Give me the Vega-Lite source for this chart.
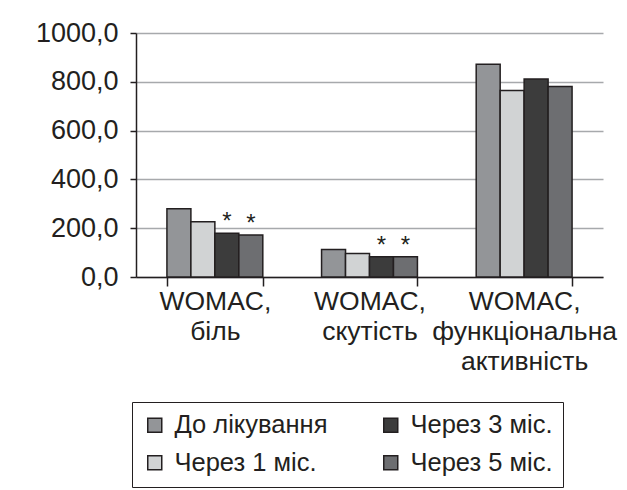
{
  "$schema": "https://vega.github.io/schema/vega-lite/v6.json",
  "autosize": {"type": "none"},
  "width": 467,
  "height": 244,
  "padding": {"left": 136, "top": 33, "right": 24, "bottom": 213},
  "background": "#ffffff",
  "config": {
    "view": {"stroke": null},
    "font": "Liberation Sans",
    "axis": {"labelFont": "Liberation Sans", "labelColor": "#231f20", "domainColor": "#231f20", "tickColor": "#231f20", "domainWidth": 1.5, "tickWidth": 1.5},
    "legend": {"labelFont": "Liberation Sans"}
  },
  "data": {
    "values": [
      {"cat": "WOMAC, біль", "period": "До лікування", "value": 280, "sig": ""},
      {"cat": "WOMAC, біль", "period": "Через 1 міс.", "value": 226, "sig": ""},
      {"cat": "WOMAC, біль", "period": "Через 3 міс.", "value": 179, "sig": "*"},
      {"cat": "WOMAC, біль", "period": "Через 5 міс.", "value": 172, "sig": "*"},
      {"cat": "WOMAC, скутість", "period": "До лікування", "value": 113, "sig": ""},
      {"cat": "WOMAC, скутість", "period": "Через 1 міс.", "value": 96, "sig": ""},
      {"cat": "WOMAC, скутість", "period": "Через 3 міс.", "value": 83, "sig": "*"},
      {"cat": "WOMAC, скутість", "period": "Через 5 міс.", "value": 83, "sig": "*"},
      {"cat": "WOMAC, функціональна активність", "period": "До лікування", "value": 872, "sig": ""},
      {"cat": "WOMAC, функціональна активність", "period": "Через 1 міс.", "value": 764, "sig": ""},
      {"cat": "WOMAC, функціональна активність", "period": "Через 3 міс.", "value": 811, "sig": ""},
      {"cat": "WOMAC, функціональна активність", "period": "Через 5 міс.", "value": 781, "sig": ""}
    ]
  },
  "encoding": {
    "x": {
      "field": "cat", "type": "nominal", "sort": null,
      "scale": {"paddingInner": 0.38},
      "axis": {
        "title": null, "labelAngle": 0, "labelFontSize": 26.5, "labelLineHeight": 30,
        "labelBaseline": "top", "labelPadding": 2, "tickSize": 9, "tickBand": "extent",
        "labelLimit": 400, "labelOverlap": false,
        "labelExpr": "split(replace(replace(datum.label, ', ', ',|'), ' ', '|'), '|')"
      }
    },
    "xOffset": {
      "field": "period", "type": "nominal",
      "sort": ["До лікування", "Через 1 міс.", "Через 3 міс.", "Через 5 міс."],
      "scale": {"paddingInner": 0, "paddingOuter": 0}
    },
    "y": {
      "field": "value", "type": "quantitative",
      "scale": {"domain": [0, 1000]},
      "axis": {
        "title": null, "values": [0, 200, 400, 600, 800, 1000], "grid": true,
        "gridColor": "#a7a9ac", "gridWidth": 1.5, "tickSize": 6, "labelFontSize": 27,
        "labelPadding": 12,
        "labelExpr": "replace(format(datum.value, '.1f'), '.', ',')"
      }
    }
  },
  "layer": [
    {
      "mark": {"type": "bar", "stroke": "#231f20", "strokeWidth": 1.5},
      "encoding": {
        "color": {
          "field": "period", "type": "nominal",
          "scale": {
            "domain": ["До лікування", "Через 1 міс.", "Через 3 міс.", "Через 5 міс."],
            "range": ["#939598", "#d1d3d4", "#3c3c3c", "#6d6e71"]
          },
          "legend": {
            "title": null, "orient": "none", "legendX": -4, "legendY": 369,
            "columns": 2, "columnPadding": 50, "rowPadding": 11,
            "symbolType": "square", "symbolSize": 196, "symbolStrokeColor": "#231f20",
            "symbolStrokeWidth": 1.5, "labelFontSize": 25.5, "labelColor": "#231f20",
            "labelOffset": 7, "strokeColor": "#231f20", "padding": 10,
            "fillColor": "#ffffff", "symbolOpacity": 1
          }
        }
      }
    },
    {
      "mark": {"type": "text", "fontSize": 24, "baseline": "alphabetic", "dy": -4, "color": "#231f20"},
      "encoding": {"text": {"field": "sig"}}
    }
  ]
}
